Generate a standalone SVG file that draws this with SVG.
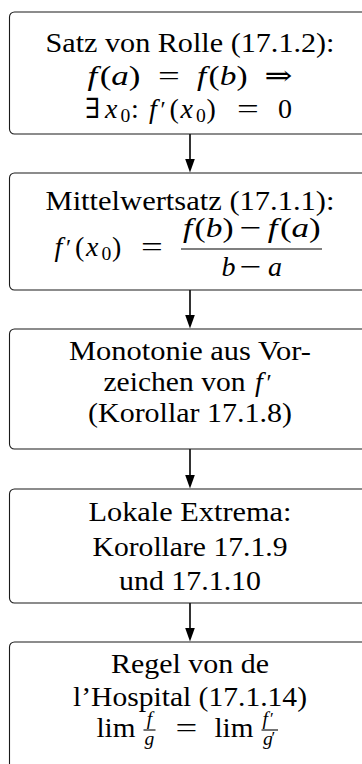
<svg xmlns="http://www.w3.org/2000/svg" width="362" height="764" viewBox="0 0 362 764">
<style>
.box{fill:#fff;stroke:#1a1a1a;stroke-width:1.1}
.t{font-family:"Liberation Serif","DejaVu Serif",serif;font-size:28px;fill:#000}
.m{text-anchor:middle}
.i{font-style:italic}
.s{font-size:19.6px}
.p{font-size:24px}
.ps{font-size:17px}
.bar{stroke:#000;stroke-width:1.1}
.con{stroke:#000;stroke-width:1.6;fill:none}
</style>
<defs>
<marker id="ah" markerUnits="userSpaceOnUse" viewBox="0 0 14 10" markerWidth="14" markerHeight="10" refX="10" refY="5" orient="auto">
<path d="M0,0 L14,5 L0,10 Z" fill="#000"/>
</marker>
</defs>
<rect width="362" height="764" fill="#fff"/>

<g id="connectors">
<line class="con" x1="190" y1="134" x2="190" y2="168.5" marker-end="url(#ah)"/>
<line class="con" x1="190" y1="290" x2="190" y2="324.5" marker-end="url(#ah)"/>
<line class="con" x1="190" y1="449" x2="190" y2="484.5" marker-end="url(#ah)"/>
<line class="con" x1="190" y1="603" x2="190" y2="637.5" marker-end="url(#ah)"/>
</g>

<g id="rolle">
<rect class="box" x="9.5" y="12" width="362" height="122" rx="5"/>
<text class="t m" x="190" y="52" textLength="289" lengthAdjust="spacingAndGlyphs">Satz von Rolle (17.1.2):</text>
<text class="t" x="87.5" y="85" textLength="53" lengthAdjust="spacingAndGlyphs"><tspan class="i">f</tspan><tspan dx="2">(</tspan><tspan class="i">a</tspan>)</text>
<text class="t" x="158" y="85" textLength="21.8" lengthAdjust="spacingAndGlyphs">=</text>
<text class="t" x="197" y="85" textLength="50.5" lengthAdjust="spacingAndGlyphs"><tspan class="i">f</tspan><tspan dx="2">(</tspan><tspan class="i">b</tspan>)</text>
<text class="t" x="264.5" y="85" textLength="28" lengthAdjust="spacingAndGlyphs">⇒</text>
<text class="t" x="85" y="118">∃</text>
<text class="t i" x="105" y="118">x</text><text class="t s" x="120.5" y="122">0</text><text class="t" x="131" y="118">:</text>
<text class="t i" x="149" y="118">f</text><text class="t p" x="160.5" y="117">′</text>
<text class="t" x="169.5" y="118">(</text><text class="t i" x="180.5" y="118">x</text><text class="t s" x="196" y="122">0</text><text class="t" x="206.5" y="118">)</text>
<text class="t" x="237" y="118" textLength="21.8" lengthAdjust="spacingAndGlyphs">=</text>
<text class="t" x="278" y="118">0</text>
</g>

<g id="mittelwertsatz">
<rect class="box" x="9.5" y="173" width="362" height="117" rx="5"/>
<text class="t m" x="190" y="210" textLength="289" lengthAdjust="spacingAndGlyphs">Mittelwertsatz (17.1.1):</text>
<text class="t i" x="54.5" y="256">f</text><text class="t p" x="66" y="255">′</text>
<text class="t" x="75" y="256">(</text><text class="t i" x="86" y="256">x</text><text class="t s" x="101.5" y="260">0</text><text class="t" x="112" y="256">)</text>
<text class="t" x="141" y="256" textLength="21.8" lengthAdjust="spacingAndGlyphs">=</text>
<text class="t" x="183" y="237" textLength="50.5" lengthAdjust="spacingAndGlyphs"><tspan class="i">f</tspan><tspan dx="2">(</tspan><tspan class="i">b</tspan>)</text>
<text class="t" x="239.7" y="237" textLength="21.8" lengthAdjust="spacingAndGlyphs">−</text>
<text class="t" x="267.7" y="237" textLength="53" lengthAdjust="spacingAndGlyphs"><tspan class="i">f</tspan><tspan dx="2">(</tspan><tspan class="i">a</tspan>)</text>
<line class="bar" x1="181" y1="249" x2="322" y2="249"/>
<text class="t i" x="221.5" y="276">b</text>
<text class="t" x="239.7" y="276" textLength="21.8" lengthAdjust="spacingAndGlyphs">−</text>
<text class="t i" x="268" y="276">a</text>
</g>

<g id="monotonie">
<rect class="box" x="9.5" y="329" width="362" height="120" rx="5"/>
<text class="t m" x="190" y="360" textLength="242" lengthAdjust="spacingAndGlyphs">Monotonie aus Vor-</text>
<text class="t" x="103.5" y="391" textLength="142" lengthAdjust="spacingAndGlyphs">zeichen von</text>
<text class="t i" x="255" y="391">f</text><text class="t p" x="266.5" y="390">′</text>
<text class="t m" x="190" y="422" textLength="204" lengthAdjust="spacingAndGlyphs">(Korollar 17.1.8)</text>
</g>

<g id="extrema">
<rect class="box" x="9.5" y="489" width="362" height="114" rx="5"/>
<text class="t m" x="190" y="521" textLength="203" lengthAdjust="spacingAndGlyphs">Lokale Extrema:</text>
<text class="t m" x="190" y="556" textLength="195" lengthAdjust="spacingAndGlyphs">Korollare 17.1.9</text>
<text class="t m" x="190" y="590" textLength="142" lengthAdjust="spacingAndGlyphs">und 17.1.10</text>
</g>

<g id="hospital">
<rect class="box" x="9.5" y="642" width="362" height="140" rx="5"/>
<text class="t m" x="190" y="673" textLength="158" lengthAdjust="spacingAndGlyphs">Regel von de</text>
<text class="t m" x="190" y="706" textLength="234" lengthAdjust="spacingAndGlyphs">l’Hospital (17.1.14)</text>
<text class="t" x="96.5" y="737" textLength="39" lengthAdjust="spacingAndGlyphs">lim</text>
<text class="t s i m" x="149.5" y="725">f</text>
<line class="bar" x1="143.5" y1="730" x2="155.5" y2="730"/>
<text class="t s i m" x="149.5" y="745">g</text>
<text class="t" x="175.6" y="737" textLength="21.8" lengthAdjust="spacingAndGlyphs">=</text>
<text class="t" x="214.5" y="737" textLength="39" lengthAdjust="spacingAndGlyphs">lim</text>
<text class="t s i" x="262.5" y="725">f</text><text class="t ps" x="270" y="724">′</text>
<line class="bar" x1="261.5" y1="730" x2="278" y2="730"/>
<text class="t s i" x="263" y="745">g</text><text class="t ps" x="271.5" y="743">′</text>
</g>
</svg>
